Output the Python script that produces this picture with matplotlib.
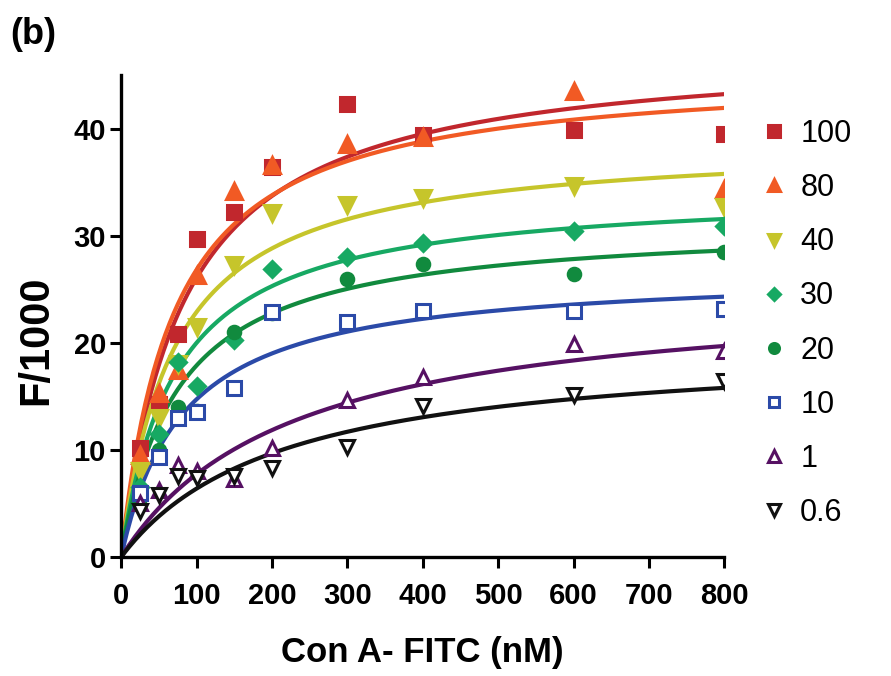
import numpy as np
import matplotlib
matplotlib.use("Agg")
import matplotlib.pyplot as plt
from matplotlib.lines import Line2D

plt.rcParams["font.family"] = ["Liberation Sans", "DejaVu Sans"]

# concentration of Con A-FITC (nM)
conc = [25, 50, 75, 100, 150, 200, 300, 400, 600, 800]

labels = ["100", "80", "40", "30", "20", "10", "1", "0.6"]

# F/1000
f_100 = [10.2, 14.3, 20.8, 29.7, 32.2, 36.4, 42.3, 39.4, 39.9, 39.5]
f_80 = [9.5, 15.3, 17.5, 26.3, 34.2, 36.6, 38.6, 39.2, 43.5, 34.4]
f_40 = [8.0, 13.0, 18.0, 21.5, 27.3, 32.1, 32.9, 33.5, 34.6, 32.7]
f_30 = [6.5, 11.5, 18.2, 16.0, 20.3, 26.9, 28.0, 29.3, 30.4, 30.9]
f_20 = [5.5, 10.0, 14.0, 13.6, 21.0, 22.8, 26.0, 27.4, 26.4, 28.5]
f_10 = [6.0, 9.3, 13.0, 13.5, 15.8, 22.9, 21.9, 23.0, 23.0, 23.2]
f_1 = [5.0, 6.3, 8.6, 8.0, 7.3, 10.2, 14.7, 16.8, 19.9, 19.2]
f_06 = [4.3, 5.8, 7.6, 7.4, 7.6, 8.3, 10.3, 14.1, 15.1, 16.4]
series = [f_100, f_80, f_40, f_30, f_20, f_10, f_1, f_06]

# one-site binding fits: F = Bmax*x/(Kd+x)
bmax = [47.7, 45.6, 38.9, 34.4, 31.3, 26.8, 25.3, 20.0]
kd = [83, 70, 70, 72, 75, 82, 227, 213]

colors = ["#c1272d", "#f15a24", "#c6c52b", "#17a963", "#118a3e",
          "#2b4aa8", "#561163", "#111111"]
markers = ["s", "^", "v", "D", "o", "s", "^", "v"]
filled = [True, True, True, True, True, False, False, False]
msizes = [10, 11, 11, 8, 9, 9.5, 10, 10]

fig = plt.figure(figsize=(8.91, 6.76), dpi=100)
ax = fig.add_axes([0.136, 0.176, 0.677, 0.713])

xs = np.linspace(0, 800, 300)
handles = []
for ys, b, k, c, m, fl, ms, lab in zip(series, bmax, kd, colors, markers,
                                        filled, msizes, labels):
    ax.plot(xs, b * xs / (k + xs), color=c, lw=3.0, zorder=2)
    fc = c if fl else "white"
    ax.plot(conc, ys, ls="none", marker=m, ms=ms, mfc=fc, mec=c,
            mew=2.2, zorder=3)
    handles.append(Line2D([], [], ls="none", marker=m, ms=ms * 0.8,
                          mfc=fc, mec=c, mew=2.2, label=lab))

ax.set_xlim(0, 800)
ax.set_ylim(0, 45)
ax.set_xticks(range(0, 801, 100))
ax.set_yticks([0, 10, 20, 30, 40])
for s in ["top", "right"]:
    ax.spines[s].set_visible(False)
for s in ["left", "bottom"]:
    ax.spines[s].set_linewidth(2.4)
ax.tick_params(width=2.2, length=8, labelsize=21)
ax.tick_params(axis="x", pad=10)
ax.tick_params(axis="y", pad=3)
for t in ax.get_xticklabels() + ax.get_yticklabels():
    t.set_fontweight("bold")

ax.set_xlabel("Con A- FITC (nM)", fontsize=25, fontweight="bold")
ax.xaxis.set_label_coords(0.5, -0.163)
ax.set_ylabel("F/1000", fontsize=30, fontweight="bold")
ax.yaxis.set_label_coords(-0.108, 0.45)

fig.legend(handles=handles, loc="upper left", bbox_to_anchor=(0.838, 0.842),
           frameon=False, fontsize=22, labelspacing=0.79, handlelength=1.0,
           handletextpad=0.35, borderaxespad=0)

fig.text(0.012, 0.975, "(b)", fontsize=26, fontweight="bold",
         ha="left", va="top")

fig.savefig("out.png", dpi=100)
